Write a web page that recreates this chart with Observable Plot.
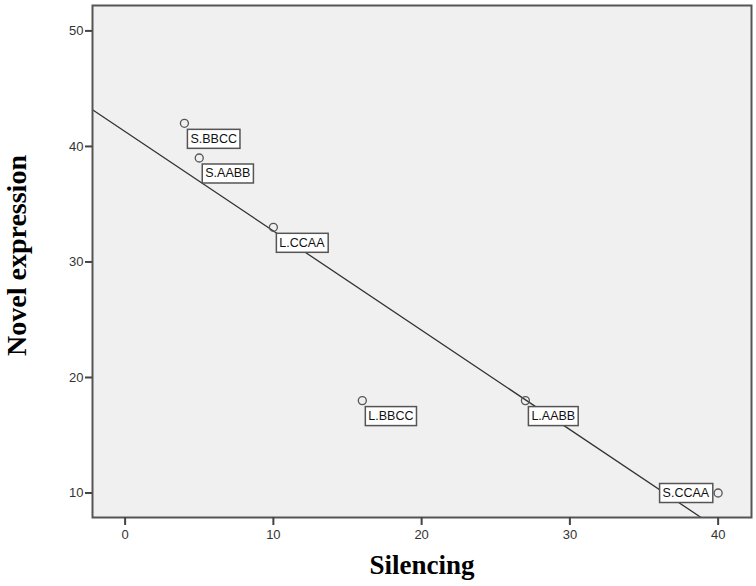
<!DOCTYPE html>
<html>
<head>
<meta charset="utf-8">
<script src="https://cdn.jsdelivr.net/npm/d3@7"></script>
<script src="https://cdn.jsdelivr.net/npm/@observablehq/plot@0.6"></script>
<style>
  html, body { margin: 0; padding: 0; background: #fff; }
  #chart svg { display: block; }
</style>
</head>
<body>
<div id="chart"></div>
<script>
// Data
const labels = ["S.BBCC", "S.AABB", "L.CCAA", "L.BBCC", "L.AABB", "S.CCAA"];
const silencing = [4, 5, 10, 16, 27, 40];
const novelExpression = [42, 39, 33, 18, 18, 10];
const xTicks = [0, 10, 20, 30, 40];
const yTicks = [10, 20, 30, 40, 50];
const xDomain = [-2.2, 42.25];
const yDomain = [7.88, 52.2];

const data = labels.map((l, i) => ({label: l, x: silencing[i], y: novelExpression[i]}));

// least-squares fit
const mx = d3.mean(silencing), my = d3.mean(novelExpression);
const slope = d3.sum(data, d => (d.x - mx) * (d.y - my)) / d3.sum(data, d => (d.x - mx) ** 2);
const intercept = my - slope * mx;
const fitLine = xDomain.map(x => ({x, y: intercept + slope * x}));

const W = 756, H = 586;
const mL = 92, mR = 5, mT = 5, mB = 69;
const xPx = x => mL + (x - xDomain[0]) / (xDomain[1] - xDomain[0]) * (W - mL - mR);
const fitsRight = d => xPx(d.x) + 60 < W - mR;

const chart = Plot.plot({
  width: W, height: H,
  marginLeft: mL, marginRight: mR, marginTop: mT, marginBottom: mB,
  style: {fontFamily: "'Liberation Sans', Arial, sans-serif", background: "#fff"},
  x: {domain: xDomain, ticks: xTicks},
  y: {domain: yDomain, ticks: yTicks},
  marks: [
    Plot.frame({fill: "#f0f0f0"}),
    Plot.line(fitLine, {x: "x", y: "y", stroke: "#333", strokeWidth: 1.3, clip: true}),
    Plot.dot(data, {x: "x", y: "y", r: 4, stroke: "#555", strokeWidth: 1.3, fill: "none"}),
    Plot.text(data.filter(fitsRight), {x: "x", y: "y", text: "label", textAnchor: "start", dx: 6, dy: 15.5, fontSize: 12.5, fill: "#111", className: "lbl"}),
    Plot.text(data.filter(d => !fitsRight(d)), {x: "x", y: "y", text: "label", textAnchor: "end", dx: -9, dy: 0, fontSize: 12.5, fill: "#111", className: "lbl"}),
    Plot.frame({stroke: "#555", strokeWidth: 2}),
    Plot.axisY({ticks: yTicks, tickSize: 7, tickPadding: 2, fontSize: 13, stroke: "#444", strokeWidth: 2, fill: "#333", label: null}),
    Plot.axisX({ticks: xTicks, tickSize: 8, tickPadding: 4, fontSize: 13, stroke: "#444", strokeWidth: 2, fill: "#333", label: null}),
    Plot.text(["Silencing"], {frameAnchor: "bottom", dy: 56, fontSize: 27, fontWeight: "bold", fontFamily: "'Liberation Serif', 'Times New Roman', serif", fill: "#000", lineAnchor: "bottom"}),
    Plot.text(["Novel expression"], {frameAnchor: "left", textAnchor: "middle", dx: -67, dy: -6, rotate: -90, fontSize: 28, fontWeight: "bold", fontFamily: "'Liberation Serif', 'Times New Roman', serif", fill: "#000", lineAnchor: "bottom"})
  ]
});
document.getElementById("chart").append(chart);

// boxes behind labels
chart.querySelectorAll(".lbl text").forEach(t => {
  const b = t.getBBox();
  const r = document.createElementNS("http://www.w3.org/2000/svg", "rect");
  r.setAttribute("x", b.x - 3);
  r.setAttribute("y", b.y - 2.5);
  r.setAttribute("width", b.width + 6);
  r.setAttribute("height", b.height + 5);
  r.setAttribute("fill", "#fff");
  r.setAttribute("stroke", "#555");
  r.setAttribute("stroke-width", 1.5);
  const tr = t.getAttribute("transform");
  if (tr) r.setAttribute("transform", tr);
  t.parentNode.insertBefore(r, t);
});
</script>
</body>
</html>
